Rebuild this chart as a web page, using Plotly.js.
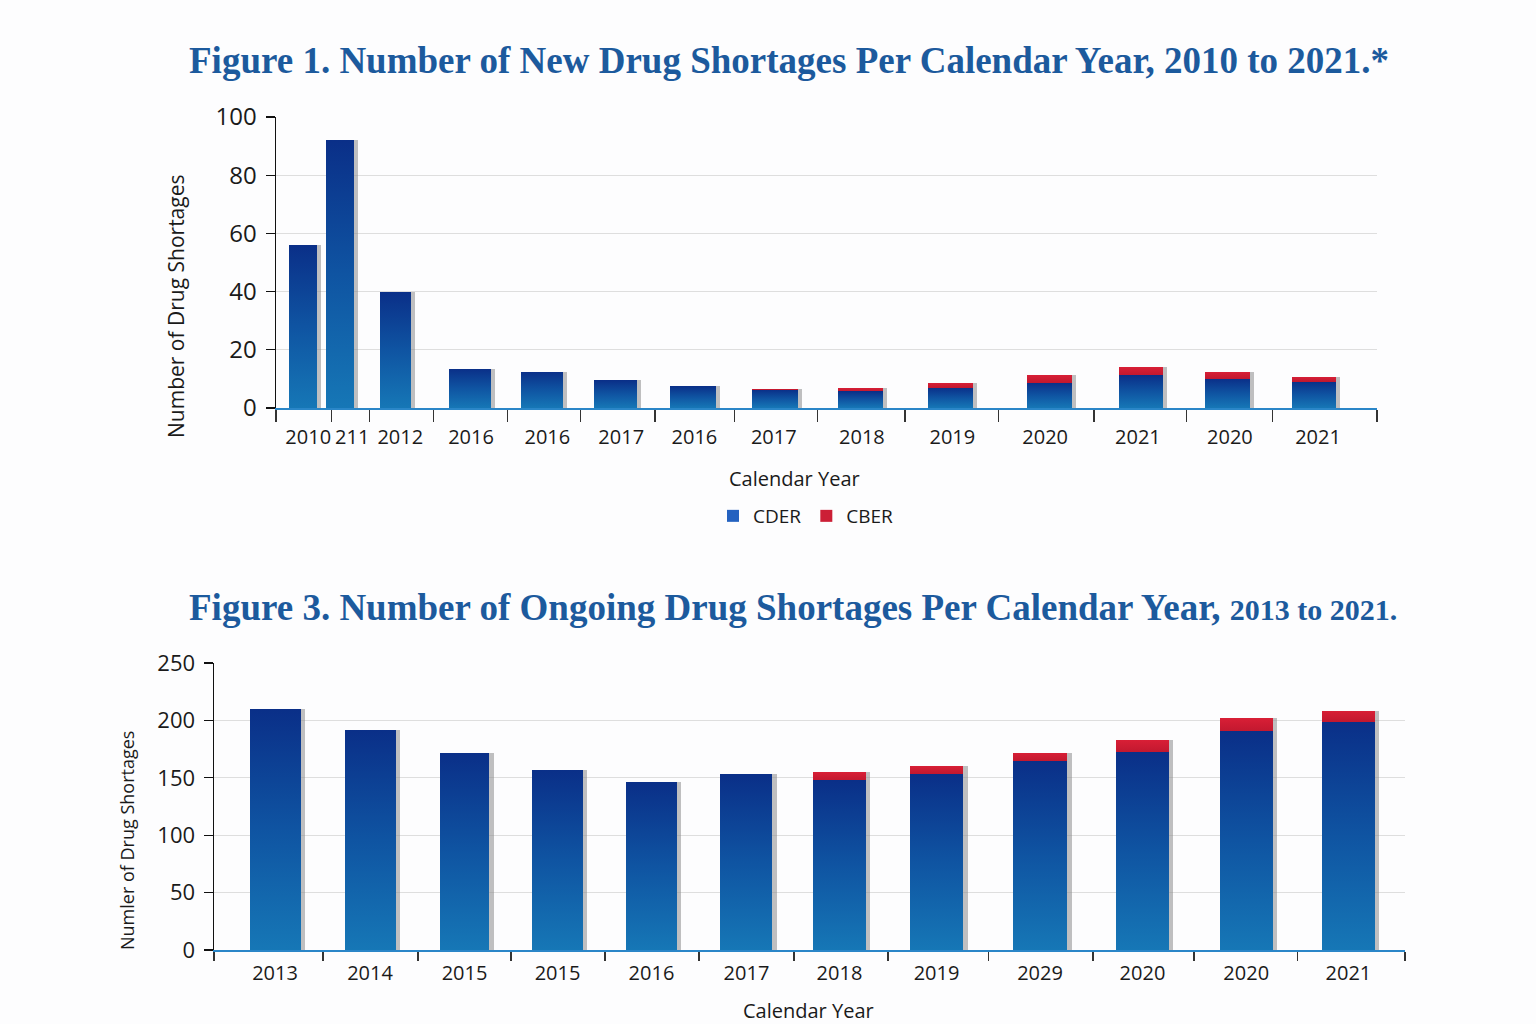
<!DOCTYPE html>
<html>
<head>
<meta charset="utf-8">
<script src="https://cdn.plot.ly/plotly-3.0.1.min.js"></script>
<style>
  html, body { margin: 0; padding: 0; background: #fdfdfe; }
  #chart { width: 1536px; height: 1024px; }
</style>
</head>
<body>
<div id="chart"></div>
<script>
// ---------------- DATA ----------------
// Figure 1: new drug shortages (labels as printed in the reference)
const newYears = ['2010', '211', '2012', '2016', '2016', '2017', '2016', '2017', '2018', '2019', '2020', '2021', '2020', '2021'];
const newCDER  = [56, 92, 40, 13.5, 12.5, 9.5, 7.5, 6.3, 5.7, 7.0, 8.7, 11.2, 10.1, 9.1];
const newCBER  = [0, 0, 0, 0, 0, 0, 0, 0.4, 1.2, 1.6, 2.6, 2.8, 2.3, 1.7];

// Figure 3: ongoing drug shortages
const ongoingYears = ['2013', '2014', '2015', '2015', '2016', '2017', '2018', '2019', '2029', '2020', '2020', '2021'];
const ongoingCDER  = [210, 192, 172, 157, 146, 153, 148, 153.5, 164.5, 172.5, 190.5, 199];
const ongoingCBER  = [0, 0, 0, 0, 0, 0, 7, 6.7, 7.5, 10.2, 11.3, 9.4];

// ---------------- LAYOUT HELPERS (slot positions on the numeric x axes) ----------------
const topBarPos    = [0.343, 0.814, 1.52, 2.467, 3.383, 4.317, 5.303, 6.345, 7.433, 8.577, 9.836, 11.0, 12.1, 13.2];
const topBarWidth  = [0.356, 0.356, 0.394, 0.534, 0.534, 0.547, 0.585, 0.585, 0.572, 0.572, 0.572, 0.56, 0.572, 0.56];
const topLabelPos  = [0.41, 0.97, 1.58, 2.48, 3.45, 4.39, 5.32, 6.33, 7.45, 8.6, 9.78, 10.96, 12.13, 13.25];
const topDividers  = [0, 0.708, 1.186, 2.0, 2.946, 3.875, 4.82, 5.83, 6.89, 8.0, 9.19, 10.4, 11.58, 12.67, 14];

const botBarPos    = [0.615, 1.572, 2.524, 3.461, 4.408, 5.365, 6.302, 7.28, 8.323, 9.355, 10.4, 11.43];
const botBarWidth  = [0.514, 0.514, 0.5, 0.514, 0.514, 0.524, 0.534, 0.534, 0.544, 0.534, 0.534, 0.534];
const botDividers  = [0, 1.098, 2.055, 2.992, 3.94, 4.887, 5.844, 6.791, 7.8, 8.856, 9.874, 10.92, 12];

const CDER_COLOR = '#2462c0';
const CBER_COLOR = '#cc1f36';
const SHADOW = 'rgba(140,140,140,0.55)';
const TITLE_BLUE = '#1c5a9d';
const SANS = '"Open Sans", "Noto Sans", sans-serif';
const SERIF = '"Liberation Serif", "DejaVu Serif", serif';

const sum = (a, b) => a.map((v, i) => v + b[i]);

// ---------------- TRACES ----------------
const traces = [
  // shadows (base subplots, drawn underneath)
  { type: 'bar', x: topBarPos.map(v => v + 0.05), y: sum(newCDER, newCBER), width: topBarWidth,
    xaxis: 'x', yaxis: 'y', marker: { color: SHADOW }, showlegend: false, hoverinfo: 'skip', name: 'shadow' },
  { type: 'bar', x: botBarPos.map(v => v + 0.045), y: sum(ongoingCDER, ongoingCBER), width: botBarWidth,
    xaxis: 'x3', yaxis: 'y2', marker: { color: SHADOW }, showlegend: false, hoverinfo: 'skip', name: 'shadow' },

  // Figure 1 bars
  { type: 'bar', name: 'CDER', x: topBarPos, y: newCDER, width: topBarWidth,
    xaxis: 'x2', yaxis: 'y', marker: { color: CDER_COLOR }, legendgroup: 'CDER' },
  { type: 'bar', name: 'CBER', x: topBarPos, y: newCBER, width: topBarWidth,
    xaxis: 'x2', yaxis: 'y', marker: { color: CBER_COLOR }, legendgroup: 'CBER' },

  // Figure 3 bars
  { type: 'bar', name: 'CDER', x: botBarPos, y: ongoingCDER, width: botBarWidth,
    xaxis: 'x4', yaxis: 'y2', marker: { color: CDER_COLOR }, showlegend: false, legendgroup: 'CDER' },
  { type: 'bar', name: 'CBER', x: botBarPos, y: ongoingCBER, width: botBarWidth,
    xaxis: 'x4', yaxis: 'y2', marker: { color: CBER_COLOR }, showlegend: false, legendgroup: 'CBER' }
];

const tickFont = { family: SANS, size: 20, color: '#1a1a1a' };
const yTickFont = { family: SANS, size: 24, color: '#1a1a1a' };

const topXDomain = [276 / 1536, 1377 / 1536];
const botXDomain = [214 / 1536, 1405 / 1536];

const layout = {
  width: 1536, height: 1024,
  margin: { l: 0, r: 0, t: 0, b: 0 },
  paper_bgcolor: '#fdfdfe',
  plot_bgcolor: 'rgba(0,0,0,0)',
  barmode: 'stack',
  showlegend: true,
  legend: {
    orientation: 'h', x: 806 / 1536, xanchor: 'center', y: (1024 - 516) / 1024, yanchor: 'middle',
    font: { family: SANS, size: 19, color: '#1a1a1a' }, bgcolor: 'rgba(0,0,0,0)', itemwidth: 30
  },
  // ---- Figure 1 axes ----
  xaxis: {
    domain: topXDomain, anchor: 'y', range: [0, 14], fixedrange: true,
    showgrid: false, zeroline: false, showline: true, linecolor: '#2a86c8', linewidth: 2,
    tickmode: 'array', tickvals: topLabelPos, ticktext: newYears, ticks: '',
    tickfont: tickFont, ticklabelstandoff: 10,
    minor: { tickmode: 'array', tickvals: topDividers, ticks: 'outside', ticklen: 12, tickwidth: 1.3, tickcolor: '#333', showgrid: false }
  },
  xaxis2: { overlaying: 'x', anchor: 'y', range: [0, 14], visible: false, fixedrange: true },
  yaxis: {
    domain: [(1024 - 408) / 1024, (1024 - 117) / 1024], anchor: 'x', range: [0, 100], fixedrange: true,
    tickmode: 'array', tickvals: [0, 20, 40, 60, 80, 100],
    showgrid: true, gridcolor: '#dedede', gridwidth: 1, zeroline: false,
    showline: true, linecolor: '#111', linewidth: 1.5,
    ticks: 'outside', ticklen: 9, tickcolor: '#111', tickwidth: 1.3,
    tickfont: yTickFont, ticklabelstandoff: 4
  },
  // ---- Figure 3 axes ----
  xaxis3: {
    domain: botXDomain, anchor: 'y2', range: [0, 12], fixedrange: true,
    showgrid: false, zeroline: false, showline: true, linecolor: '#2a86c8', linewidth: 2,
    tickmode: 'array', tickvals: botBarPos, ticktext: ongoingYears, ticks: '',
    tickfont: { family: SANS, size: 20, color: '#1a1a1a' }, ticklabelstandoff: 4,
    minor: { tickmode: 'array', tickvals: botDividers, ticks: 'outside', ticklen: 9, tickwidth: 1.3, tickcolor: '#333', showgrid: false }
  },
  xaxis4: { overlaying: 'x3', anchor: 'y2', range: [0, 12], visible: false, fixedrange: true },
  yaxis2: {
    domain: [(1024 - 950) / 1024, (1024 - 663) / 1024], anchor: 'x3', range: [0, 250], fixedrange: true,
    tickmode: 'array', tickvals: [0, 50, 100, 150, 200, 250],
    showgrid: true, gridcolor: '#dedede', gridwidth: 1, zeroline: false,
    showline: true, linecolor: '#111', linewidth: 1.5,
    ticks: 'outside', ticklen: 9, tickcolor: '#111', tickwidth: 1.3,
    tickfont: { family: SANS, size: 22, color: '#1a1a1a' }, ticklabelstandoff: 4
  },
  annotations: [
    { text: 'Figure 1. Number of New Drug Shortages Per Calendar Year, 2010 to 2021.*',
      xref: 'paper', yref: 'paper', x: 789 / 1536, y: (1024 - 60) / 1024, xanchor: 'center', yanchor: 'middle',
      showarrow: false, font: { family: SERIF, size: 37, color: TITLE_BLUE, weight: 'bold' } },
    { text: 'Figure 3. Number of Ongoing Drug Shortages Per Calendar Year, <span style="font-size:30px">2013 to 2021.</span>',
      xref: 'paper', yref: 'paper', x: 793 / 1536, y: (1024 - 607) / 1024, xanchor: 'center', yanchor: 'middle',
      showarrow: false, font: { family: SERIF, size: 37, color: TITLE_BLUE, weight: 'bold' } },
    { text: 'Number of Drug Shortages', textangle: -90,
      xref: 'paper', yref: 'paper', x: 176 / 1536, y: (1024 - 307) / 1024, xanchor: 'center', yanchor: 'middle',
      showarrow: false, font: { family: SANS, size: 21, color: '#1a1a1a' } },
    { text: 'Calendar Year',
      xref: 'paper', yref: 'paper', x: 794 / 1536, y: (1024 - 478) / 1024, xanchor: 'center', yanchor: 'middle',
      showarrow: false, font: { family: SANS, size: 20, color: '#1a1a1a' } },
    { text: 'Numler of Drug Shortages', textangle: -90,
      xref: 'paper', yref: 'paper', x: 127 / 1536, y: (1024 - 841) / 1024, xanchor: 'center', yanchor: 'middle',
      showarrow: false, font: { family: SANS, size: 18, color: '#1a1a1a' } },
    { text: 'Calendar Year',
      xref: 'paper', yref: 'paper', x: 808 / 1536, y: (1024 - 1010) / 1024, xanchor: 'center', yanchor: 'middle',
      showarrow: false, font: { family: SANS, size: 20, color: '#1a1a1a' } }
  ]
};

const gd = document.getElementById('chart');
Plotly.newPlot(gd, traces, layout, { staticPlot: true, displayModeBar: false }).then(() => {
  // vertical gradient on the bars (dark navy at top, lighter blue at bottom)
  const svg = gd.querySelector('.main-svg');
  const NS = 'http://www.w3.org/2000/svg';
  let defs = svg.querySelector('defs');
  if (!defs) { defs = document.createElementNS(NS, 'defs'); svg.insertBefore(defs, svg.firstChild); }
  const mk = (id, stops) => {
    const g = document.createElementNS(NS, 'linearGradient');
    g.setAttribute('id', id); g.setAttribute('x1', '0'); g.setAttribute('y1', '0');
    g.setAttribute('x2', '0'); g.setAttribute('y2', '1');
    stops.forEach(([o, c]) => {
      const s = document.createElementNS(NS, 'stop');
      s.setAttribute('offset', o); s.setAttribute('stop-color', c);
      g.appendChild(s);
    });
    defs.appendChild(g);
  };
  mk('gradCDER', [['0', '#0a2f88'], ['0.5', '#0f54a2'], ['1', '#1677b6']]);
  mk('gradCBER', [['0', '#d81f36'], ['1', '#c2182f']]);
  gd.querySelectorAll('.barlayer .trace').forEach(tr => {
    const d = tr.__data__;
    const t = d && d[0] && d[0].trace;
    if (!t) return;
    if (t.name === 'CDER') tr.querySelectorAll('path').forEach(p => { p.style.fill = 'url(#gradCDER)'; });
    if (t.name === 'CBER') tr.querySelectorAll('path').forEach(p => { p.style.fill = 'url(#gradCBER)'; });
  });
});
</script>
</body>
</html>
